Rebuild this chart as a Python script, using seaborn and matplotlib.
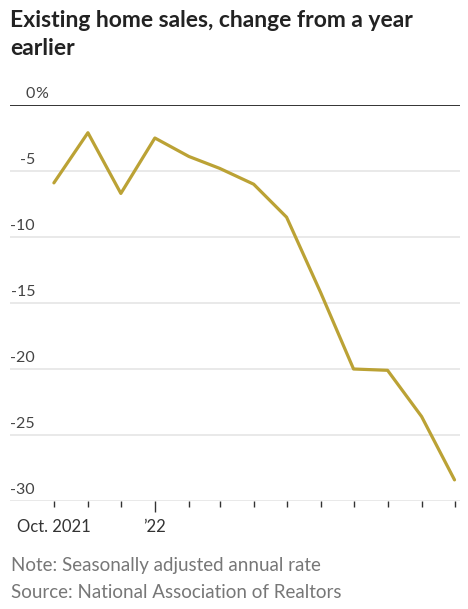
import pandas as pd
import matplotlib.pyplot as plt
import matplotlib.transforms as mtransforms
import seaborn as sns

# --- Data (existing home sales, % change from a year earlier) ---
months = pd.date_range("2021-10-01", "2022-10-01", freq="MS")
change_pct = [-5.9, -2.1, -6.7, -2.5, -3.9, -4.8, -6.0, -8.5, -14.2, -20.0, -20.1, -23.6, -28.4]
y_ticks = [0, -5, -10, -15, -20, -25, -30]
y_labels = ["0", "-5", "-10", "-15", "-20", "-25", "-30"]
x_labels = {pd.Timestamp("2021-10-01"): "Oct. 2021", pd.Timestamp("2022-01-01"): "\u201922"}

df = pd.DataFrame({"month": months, "change": change_pct})

sns.set_theme(style="white")
plt.rcParams["font.family"] = ["Lato", "DejaVu Sans"]

W, H = 468, 609
fig = plt.figure(figsize=(W / 100, H / 100), dpi=100)
# axes from x=10..460 px, y=105..501 px
ax = fig.add_axes([10 / W, 1 - 501 / H, 450 / W, 396 / H])

sns.lineplot(data=df, x="month", y="change", ax=ax, color="#bba235", linewidth=2.3)

ax.set_xlim(pd.Timestamp("2021-08-22"), pd.Timestamp("2022-10-06"))
ax.set_ylim(-30, 0)
for s in ax.spines.values():
    s.set_visible(False)

# grid lines
for v in y_ticks:
    if v == 0:
        ax.axhline(v, color="#333333", linewidth=1.4, zorder=3)
    else:
        ax.axhline(v, color="#e3e3e3", linewidth=1.1, zorder=0)

# y labels, sitting above their grid lines
trans = mtransforms.blended_transform_factory(ax.transAxes, ax.transData)
for v, lab in zip(y_ticks, y_labels):
    ax.text(25 / 450, v + 0.3, lab, transform=trans, ha="right", va="bottom",
            fontsize=11.5, color="#444444")
ax.text(25 / 450, 0.3, "%", transform=trans, ha="left", va="bottom",
        fontsize=11.5, color="#444444")
ax.set_yticks([])

# monthly ticks, longer at the year start
ax.set_xticks(months)
ax.set_xticklabels([x_labels.get(m, "") for m in months], fontsize=12, color="#333333")
ax.tick_params(axis="x", length=4, width=1, color="#333333", pad=9, bottom=True)
for m, tk in zip(months, ax.xaxis.get_major_ticks()):
    if m.month == 1:
        tk.tick1line.set_markersize(8)
ax.set_xlabel("")
ax.set_ylabel("")

title_kw = dict(ha="left", va="baseline", fontsize=16.5, fontweight="bold", color="#222222")
fig.text(10 / W, 1 - 27 / H, "Existing home sales, change from a year", **title_kw)
fig.text(10 / W, 1 - 55 / H, "earlier", **title_kw)
fig.text(11 / W, 1 - 566 / H, "Note: Seasonally adjusted annual rate", ha="left", va="center",
         fontsize=13.5, color="#777777")
fig.text(11 / W, 1 - 593 / H, "Source: National Association of Realtors", ha="left", va="center",
         fontsize=13.5, color="#777777")

fig.savefig("out.png", dpi=100)
